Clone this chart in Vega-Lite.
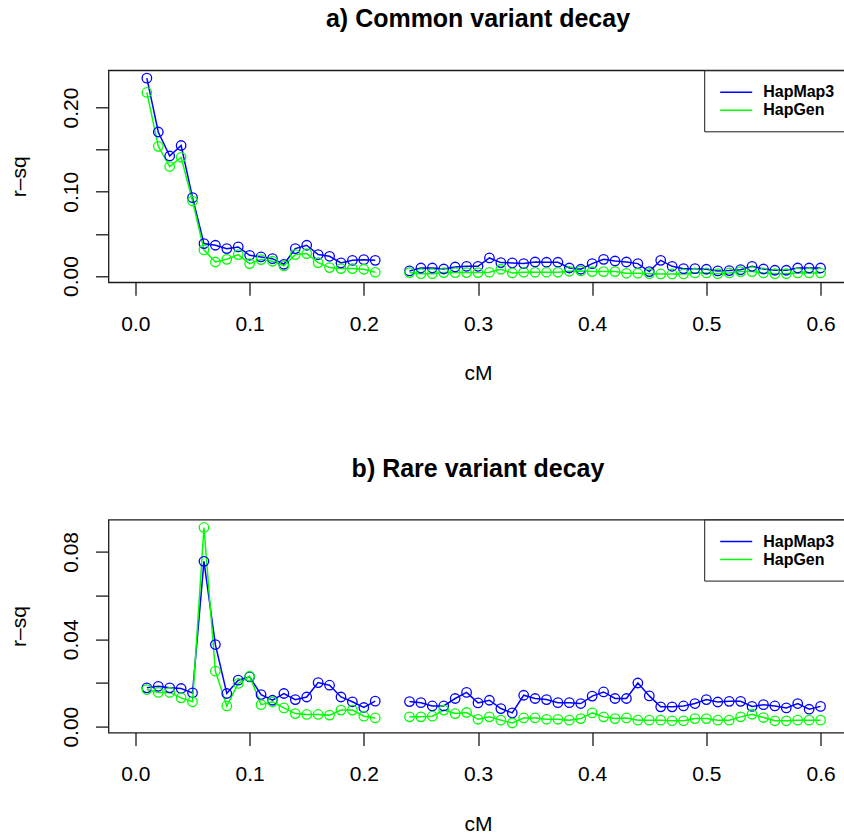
{
"$schema":"https://vega.github.io/schema/vega-lite/v6.json",
"padding":{"left":7.5,"top":6.3,"right":0,"bottom":0},
"datasets":{
"common":[
{"cM":0.01,"rsq":0.235,"series":"HapMap3","seg":1},{"cM":0.02,"rsq":0.171,"series":"HapMap3","seg":1},{"cM":0.03,"rsq":0.1425,"series":"HapMap3","seg":1},{"cM":0.04,"rsq":0.155,"series":"HapMap3","seg":1},{"cM":0.05,"rsq":0.093,"series":"HapMap3","seg":1},{"cM":0.06,"rsq":0.0385,"series":"HapMap3","seg":1},{"cM":0.07,"rsq":0.0365,"series":"HapMap3","seg":1},{"cM":0.08,"rsq":0.0325,"series":"HapMap3","seg":1},{"cM":0.09,"rsq":0.0345,"series":"HapMap3","seg":1},{"cM":0.10,"rsq":0.0246,"series":"HapMap3","seg":1},{"cM":0.11,"rsq":0.0226,"series":"HapMap3","seg":1},{"cM":0.12,"rsq":0.0206,"series":"HapMap3","seg":1},{"cM":0.13,"rsq":0.0139,"series":"HapMap3","seg":1},{"cM":0.14,"rsq":0.0325,"series":"HapMap3","seg":1},{"cM":0.15,"rsq":0.0365,"series":"HapMap3","seg":1},{"cM":0.16,"rsq":0.0254,"series":"HapMap3","seg":1},{"cM":0.17,"rsq":0.0234,"series":"HapMap3","seg":1},{"cM":0.18,"rsq":0.0155,"series":"HapMap3","seg":1},{"cM":0.19,"rsq":0.0186,"series":"HapMap3","seg":1},{"cM":0.20,"rsq":0.0194,"series":"HapMap3","seg":1},{"cM":0.21,"rsq":0.0186,"series":"HapMap3","seg":1},
{"cM":0.24,"rsq":0.006,"series":"HapMap3","seg":2},{"cM":0.25,"rsq":0.0095,"series":"HapMap3","seg":2},{"cM":0.26,"rsq":0.0095,"series":"HapMap3","seg":2},{"cM":0.27,"rsq":0.0083,"series":"HapMap3","seg":2},{"cM":0.28,"rsq":0.0107,"series":"HapMap3","seg":2},{"cM":0.29,"rsq":0.0115,"series":"HapMap3","seg":2},{"cM":0.30,"rsq":0.0115,"series":"HapMap3","seg":2},{"cM":0.31,"rsq":0.0214,"series":"HapMap3","seg":2},{"cM":0.32,"rsq":0.0159,"series":"HapMap3","seg":2},{"cM":0.33,"rsq":0.0155,"series":"HapMap3","seg":2},{"cM":0.34,"rsq":0.0147,"series":"HapMap3","seg":2},{"cM":0.35,"rsq":0.0166,"series":"HapMap3","seg":2},{"cM":0.36,"rsq":0.0163,"series":"HapMap3","seg":2},{"cM":0.37,"rsq":0.0163,"series":"HapMap3","seg":2},{"cM":0.38,"rsq":0.0095,"series":"HapMap3","seg":2},{"cM":0.39,"rsq":0.008,"series":"HapMap3","seg":2},{"cM":0.40,"rsq":0.0147,"series":"HapMap3","seg":2},{"cM":0.41,"rsq":0.0198,"series":"HapMap3","seg":2},{"cM":0.42,"rsq":0.0178,"series":"HapMap3","seg":2},{"cM":0.43,"rsq":0.0166,"series":"HapMap3","seg":2},{"cM":0.44,"rsq":0.0147,"series":"HapMap3","seg":2},{"cM":0.45,"rsq":0.0052,"series":"HapMap3","seg":2},{"cM":0.46,"rsq":0.0186,"series":"HapMap3","seg":2},{"cM":0.47,"rsq":0.0115,"series":"HapMap3","seg":2},{"cM":0.48,"rsq":0.0087,"series":"HapMap3","seg":2},{"cM":0.49,"rsq":0.0087,"series":"HapMap3","seg":2},{"cM":0.50,"rsq":0.008,"series":"HapMap3","seg":2},{"cM":0.51,"rsq":0.006,"series":"HapMap3","seg":2},{"cM":0.52,"rsq":0.0064,"series":"HapMap3","seg":2},{"cM":0.53,"rsq":0.0075,"series":"HapMap3","seg":2},{"cM":0.54,"rsq":0.0115,"series":"HapMap3","seg":2},{"cM":0.55,"rsq":0.0083,"series":"HapMap3","seg":2},{"cM":0.56,"rsq":0.0068,"series":"HapMap3","seg":2},{"cM":0.57,"rsq":0.0068,"series":"HapMap3","seg":2},{"cM":0.58,"rsq":0.0095,"series":"HapMap3","seg":2},{"cM":0.59,"rsq":0.0095,"series":"HapMap3","seg":2},{"cM":0.60,"rsq":0.0095,"series":"HapMap3","seg":2},
{"cM":0.01,"rsq":0.218,"series":"HapGen","seg":1},{"cM":0.02,"rsq":0.154,"series":"HapGen","seg":1},{"cM":0.03,"rsq":0.130,"series":"HapGen","seg":1},{"cM":0.04,"rsq":0.141,"series":"HapGen","seg":1},{"cM":0.05,"rsq":0.089,"series":"HapGen","seg":1},{"cM":0.06,"rsq":0.031,"series":"HapGen","seg":1},{"cM":0.07,"rsq":0.0166,"series":"HapGen","seg":1},{"cM":0.08,"rsq":0.0198,"series":"HapGen","seg":1},{"cM":0.09,"rsq":0.0254,"series":"HapGen","seg":1},{"cM":0.10,"rsq":0.0147,"series":"HapGen","seg":1},{"cM":0.11,"rsq":0.0195,"series":"HapGen","seg":1},{"cM":0.12,"rsq":0.0175,"series":"HapGen","seg":1},{"cM":0.13,"rsq":0.0119,"series":"HapGen","seg":1},{"cM":0.14,"rsq":0.0254,"series":"HapGen","seg":1},{"cM":0.15,"rsq":0.0266,"series":"HapGen","seg":1},{"cM":0.16,"rsq":0.0159,"series":"HapGen","seg":1},{"cM":0.17,"rsq":0.0100,"series":"HapGen","seg":1},{"cM":0.18,"rsq":0.0088,"series":"HapGen","seg":1},{"cM":0.19,"rsq":0.0088,"series":"HapGen","seg":1},{"cM":0.20,"rsq":0.008,"series":"HapGen","seg":1},{"cM":0.21,"rsq":0.0044,"series":"HapGen","seg":1},
{"cM":0.24,"rsq":0.004,"series":"HapGen","seg":2},{"cM":0.25,"rsq":0.0028,"series":"HapGen","seg":2},{"cM":0.26,"rsq":0.0028,"series":"HapGen","seg":2},{"cM":0.27,"rsq":0.004,"series":"HapGen","seg":2},{"cM":0.28,"rsq":0.004,"series":"HapGen","seg":2},{"cM":0.29,"rsq":0.004,"series":"HapGen","seg":2},{"cM":0.30,"rsq":0.004,"series":"HapGen","seg":2},{"cM":0.31,"rsq":0.0044,"series":"HapGen","seg":2},{"cM":0.32,"rsq":0.008,"series":"HapGen","seg":2},{"cM":0.33,"rsq":0.0036,"series":"HapGen","seg":2},{"cM":0.34,"rsq":0.0044,"series":"HapGen","seg":2},{"cM":0.35,"rsq":0.0044,"series":"HapGen","seg":2},{"cM":0.36,"rsq":0.0044,"series":"HapGen","seg":2},{"cM":0.37,"rsq":0.0044,"series":"HapGen","seg":2},{"cM":0.38,"rsq":0.0056,"series":"HapGen","seg":2},{"cM":0.39,"rsq":0.006,"series":"HapGen","seg":2},{"cM":0.40,"rsq":0.0052,"series":"HapGen","seg":2},{"cM":0.41,"rsq":0.0052,"series":"HapGen","seg":2},{"cM":0.42,"rsq":0.0052,"series":"HapGen","seg":2},{"cM":0.43,"rsq":0.0032,"series":"HapGen","seg":2},{"cM":0.44,"rsq":0.0032,"series":"HapGen","seg":2},{"cM":0.45,"rsq":0.0028,"series":"HapGen","seg":2},{"cM":0.46,"rsq":0.0024,"series":"HapGen","seg":2},{"cM":0.47,"rsq":0.0024,"series":"HapGen","seg":2},{"cM":0.48,"rsq":0.0024,"series":"HapGen","seg":2},{"cM":0.49,"rsq":0.0036,"series":"HapGen","seg":2},{"cM":0.50,"rsq":0.0036,"series":"HapGen","seg":2},{"cM":0.51,"rsq":0.0028,"series":"HapGen","seg":2},{"cM":0.52,"rsq":0.0036,"series":"HapGen","seg":2},{"cM":0.53,"rsq":0.0052,"series":"HapGen","seg":2},{"cM":0.54,"rsq":0.0052,"series":"HapGen","seg":2},{"cM":0.55,"rsq":0.0036,"series":"HapGen","seg":2},{"cM":0.56,"rsq":0.0028,"series":"HapGen","seg":2},{"cM":0.57,"rsq":0.0028,"series":"HapGen","seg":2},{"cM":0.58,"rsq":0.0036,"series":"HapGen","seg":2},{"cM":0.59,"rsq":0.0036,"series":"HapGen","seg":2},{"cM":0.60,"rsq":0.0036,"series":"HapGen","seg":2}
],
"rare":[
{"cM":0.01,"rsq":0.0178,"series":"HapMap3","seg":1},{"cM":0.02,"rsq":0.0185,"series":"HapMap3","seg":1},{"cM":0.03,"rsq":0.0178,"series":"HapMap3","seg":1},{"cM":0.04,"rsq":0.0175,"series":"HapMap3","seg":1},{"cM":0.05,"rsq":0.0155,"series":"HapMap3","seg":1},{"cM":0.06,"rsq":0.0757,"series":"HapMap3","seg":1},{"cM":0.07,"rsq":0.0376,"series":"HapMap3","seg":1},{"cM":0.08,"rsq":0.0152,"series":"HapMap3","seg":1},{"cM":0.09,"rsq":0.0213,"series":"HapMap3","seg":1},{"cM":0.10,"rsq":0.0228,"series":"HapMap3","seg":1},{"cM":0.11,"rsq":0.0147,"series":"HapMap3","seg":1},{"cM":0.12,"rsq":0.0121,"series":"HapMap3","seg":1},{"cM":0.13,"rsq":0.0152,"series":"HapMap3","seg":1},{"cM":0.14,"rsq":0.0124,"series":"HapMap3","seg":1},{"cM":0.15,"rsq":0.0136,"series":"HapMap3","seg":1},{"cM":0.16,"rsq":0.0202,"series":"HapMap3","seg":1},{"cM":0.17,"rsq":0.019,"series":"HapMap3","seg":1},{"cM":0.18,"rsq":0.0136,"series":"HapMap3","seg":1},{"cM":0.19,"rsq":0.0114,"series":"HapMap3","seg":1},{"cM":0.20,"rsq":0.0088,"series":"HapMap3","seg":1},{"cM":0.21,"rsq":0.0117,"series":"HapMap3","seg":1},
{"cM":0.24,"rsq":0.0115,"series":"HapMap3","seg":2},{"cM":0.25,"rsq":0.011,"series":"HapMap3","seg":2},{"cM":0.26,"rsq":0.0095,"series":"HapMap3","seg":2},{"cM":0.27,"rsq":0.0095,"series":"HapMap3","seg":2},{"cM":0.28,"rsq":0.0129,"series":"HapMap3","seg":2},{"cM":0.29,"rsq":0.0157,"series":"HapMap3","seg":2},{"cM":0.30,"rsq":0.0109,"series":"HapMap3","seg":2},{"cM":0.31,"rsq":0.0121,"series":"HapMap3","seg":2},{"cM":0.32,"rsq":0.0083,"series":"HapMap3","seg":2},{"cM":0.33,"rsq":0.0063,"series":"HapMap3","seg":2},{"cM":0.34,"rsq":0.0144,"series":"HapMap3","seg":2},{"cM":0.35,"rsq":0.0129,"series":"HapMap3","seg":2},{"cM":0.36,"rsq":0.0124,"series":"HapMap3","seg":2},{"cM":0.37,"rsq":0.011,"series":"HapMap3","seg":2},{"cM":0.38,"rsq":0.011,"series":"HapMap3","seg":2},{"cM":0.39,"rsq":0.0106,"series":"HapMap3","seg":2},{"cM":0.40,"rsq":0.014,"series":"HapMap3","seg":2},{"cM":0.41,"rsq":0.0159,"series":"HapMap3","seg":2},{"cM":0.42,"rsq":0.0129,"series":"HapMap3","seg":2},{"cM":0.43,"rsq":0.0129,"series":"HapMap3","seg":2},{"cM":0.44,"rsq":0.02,"series":"HapMap3","seg":2},{"cM":0.45,"rsq":0.0141,"series":"HapMap3","seg":2},{"cM":0.46,"rsq":0.0091,"series":"HapMap3","seg":2},{"cM":0.47,"rsq":0.0091,"series":"HapMap3","seg":2},{"cM":0.48,"rsq":0.0095,"series":"HapMap3","seg":2},{"cM":0.49,"rsq":0.0106,"series":"HapMap3","seg":2},{"cM":0.50,"rsq":0.0124,"series":"HapMap3","seg":2},{"cM":0.51,"rsq":0.0113,"series":"HapMap3","seg":2},{"cM":0.52,"rsq":0.0116,"series":"HapMap3","seg":2},{"cM":0.53,"rsq":0.0116,"series":"HapMap3","seg":2},{"cM":0.54,"rsq":0.0093,"series":"HapMap3","seg":2},{"cM":0.55,"rsq":0.0101,"series":"HapMap3","seg":2},{"cM":0.56,"rsq":0.0095,"series":"HapMap3","seg":2},{"cM":0.57,"rsq":0.0086,"series":"HapMap3","seg":2},{"cM":0.58,"rsq":0.0106,"series":"HapMap3","seg":2},{"cM":0.59,"rsq":0.008,"series":"HapMap3","seg":2},{"cM":0.60,"rsq":0.0093,"series":"HapMap3","seg":2},
{"cM":0.01,"rsq":0.017,"series":"HapGen","seg":1},{"cM":0.02,"rsq":0.0157,"series":"HapGen","seg":1},{"cM":0.03,"rsq":0.0157,"series":"HapGen","seg":1},{"cM":0.04,"rsq":0.0132,"series":"HapGen","seg":1},{"cM":0.05,"rsq":0.0114,"series":"HapGen","seg":1},{"cM":0.06,"rsq":0.0912,"series":"HapGen","seg":1},{"cM":0.07,"rsq":0.0254,"series":"HapGen","seg":1},{"cM":0.08,"rsq":0.0095,"series":"HapGen","seg":1},{"cM":0.09,"rsq":0.0198,"series":"HapGen","seg":1},{"cM":0.10,"rsq":0.0231,"series":"HapGen","seg":1},{"cM":0.11,"rsq":0.0101,"series":"HapGen","seg":1},{"cM":0.12,"rsq":0.0114,"series":"HapGen","seg":1},{"cM":0.13,"rsq":0.0086,"series":"HapGen","seg":1},{"cM":0.14,"rsq":0.006,"series":"HapGen","seg":1},{"cM":0.15,"rsq":0.0056,"series":"HapGen","seg":1},{"cM":0.16,"rsq":0.0056,"series":"HapGen","seg":1},{"cM":0.17,"rsq":0.0053,"series":"HapGen","seg":1},{"cM":0.18,"rsq":0.0076,"series":"HapGen","seg":1},{"cM":0.19,"rsq":0.0076,"series":"HapGen","seg":1},{"cM":0.20,"rsq":0.0048,"series":"HapGen","seg":1},{"cM":0.21,"rsq":0.004,"series":"HapGen","seg":1},
{"cM":0.24,"rsq":0.0045,"series":"HapGen","seg":2},{"cM":0.25,"rsq":0.0045,"series":"HapGen","seg":2},{"cM":0.26,"rsq":0.0048,"series":"HapGen","seg":2},{"cM":0.27,"rsq":0.0076,"series":"HapGen","seg":2},{"cM":0.28,"rsq":0.006,"series":"HapGen","seg":2},{"cM":0.29,"rsq":0.0065,"series":"HapGen","seg":2},{"cM":0.30,"rsq":0.0034,"series":"HapGen","seg":2},{"cM":0.31,"rsq":0.0045,"series":"HapGen","seg":2},{"cM":0.32,"rsq":0.003,"series":"HapGen","seg":2},{"cM":0.33,"rsq":0.0017,"series":"HapGen","seg":2},{"cM":0.34,"rsq":0.004,"series":"HapGen","seg":2},{"cM":0.35,"rsq":0.004,"series":"HapGen","seg":2},{"cM":0.36,"rsq":0.0034,"series":"HapGen","seg":2},{"cM":0.37,"rsq":0.0034,"series":"HapGen","seg":2},{"cM":0.38,"rsq":0.003,"series":"HapGen","seg":2},{"cM":0.39,"rsq":0.0037,"series":"HapGen","seg":2},{"cM":0.40,"rsq":0.0063,"series":"HapGen","seg":2},{"cM":0.41,"rsq":0.0045,"series":"HapGen","seg":2},{"cM":0.42,"rsq":0.0037,"series":"HapGen","seg":2},{"cM":0.43,"rsq":0.004,"series":"HapGen","seg":2},{"cM":0.44,"rsq":0.003,"series":"HapGen","seg":2},{"cM":0.45,"rsq":0.003,"series":"HapGen","seg":2},{"cM":0.46,"rsq":0.003,"series":"HapGen","seg":2},{"cM":0.47,"rsq":0.0027,"series":"HapGen","seg":2},{"cM":0.48,"rsq":0.0027,"series":"HapGen","seg":2},{"cM":0.49,"rsq":0.0037,"series":"HapGen","seg":2},{"cM":0.50,"rsq":0.0037,"series":"HapGen","seg":2},{"cM":0.51,"rsq":0.003,"series":"HapGen","seg":2},{"cM":0.52,"rsq":0.003,"series":"HapGen","seg":2},{"cM":0.53,"rsq":0.0045,"series":"HapGen","seg":2},{"cM":0.54,"rsq":0.0057,"series":"HapGen","seg":2},{"cM":0.55,"rsq":0.0042,"series":"HapGen","seg":2},{"cM":0.56,"rsq":0.0027,"series":"HapGen","seg":2},{"cM":0.57,"rsq":0.0027,"series":"HapGen","seg":2},{"cM":0.58,"rsq":0.003,"series":"HapGen","seg":2},{"cM":0.59,"rsq":0.003,"series":"HapGen","seg":2},{"cM":0.60,"rsq":0.003,"series":"HapGen","seg":2}
]
},
"vconcat":[
{
"width":739,"height":212,
"title":{"text":"a) Common variant decay"},
"data":{"name":"common"},
"encoding":{
"x":{"field":"cM","type":"quantitative","scale":{"domain":[-0.0236,0.6236],"nice":false,"zero":false},
"axis":{"values":[0,0.1,0.2,0.3,0.4,0.5,0.6],"format":".1f","labelBaseline":"alphabetic","labelPadding":35,"title":"cM","titleBaseline":"alphabetic","titleY":97.7}},
"y":{"field":"rsq","type":"quantitative","scale":{"domain":[-0.0075,0.2443],"nice":false,"zero":false},
"axis":{"values":[0,0.05,0.1,0.15,0.2],"labelExpr":"round(datum.value*100)%10==5 ? '' : format(datum.value,'.2f')","labelAngle":270,"labelAlign":"center","labelBaseline":"alphabetic","labelPadding":18.3,"title":"r–sq","titleBaseline":"alphabetic","titleX":-83}},
"color":{"field":"series","type":"nominal","scale":{"domain":["HapMap3","HapGen"],"range":["#0000ff","#00ff00"]},
"legend":{"title":null,"orient":"none","legendX":595.7,"legendY":0,"strokeColor":"#1a1a1a","fillColor":"white","padding":13,"rowPadding":1,"symbolType":"M-2,0H2","symbolSize":256,"symbolStrokeWidth":1.5,"symbolOffset":10,"labelOffset":18,"labelFontSize":16,"labelFontWeight":"bold","labelColor":"black","labelFont":"Liberation Sans"}},
"detail":{"field":"seg","type":"nominal"}
},
"layer":[
{"mark":{"type":"line","strokeWidth":1.5}},
{"mark":{"type":"point","filled":false,"size":90,"strokeWidth":1.3,"opacity":1}}
]
},
{
"width":739,"height":213,
"title":{"text":"b) Rare variant decay"},
"data":{"name":"rare"},
"encoding":{
"x":{"field":"cM","type":"quantitative","scale":{"domain":[-0.0236,0.6236],"nice":false,"zero":false},
"axis":{"values":[0,0.1,0.2,0.3,0.4,0.5,0.6],"format":".1f","labelBaseline":"alphabetic","labelPadding":35,"title":"cM","titleBaseline":"alphabetic","titleY":97.7}},
"y":{"field":"rsq","type":"quantitative","scale":{"domain":[-0.0027,0.0948],"nice":false,"zero":false},
"axis":{"values":[0,0.02,0.04,0.06,0.08],"labelExpr":"round(datum.value*100)%4==2 ? '' : format(datum.value,'.2f')","labelAngle":270,"labelAlign":"center","labelBaseline":"alphabetic","labelPadding":18.3,"title":"r–sq","titleBaseline":"alphabetic","titleX":-83}},
"color":{"field":"series","type":"nominal","scale":{"domain":["HapMap3","HapGen"],"range":["#0000ff","#00ff00"]},
"legend":{"title":null,"orient":"none","legendX":595.7,"legendY":0,"strokeColor":"#1a1a1a","fillColor":"white","padding":13,"rowPadding":1,"symbolType":"M-2,0H2","symbolSize":256,"symbolStrokeWidth":1.5,"symbolOffset":10,"labelOffset":18,"labelFontSize":16,"labelFontWeight":"bold","labelColor":"black","labelFont":"Liberation Sans"}},
"detail":{"field":"seg","type":"nominal"}
},
"layer":[
{"mark":{"type":"line","strokeWidth":1.5}},
{"mark":{"type":"point","filled":false,"size":90,"strokeWidth":1.3,"opacity":1}}
]
}
],
"spacing":237.3,
"bounds":"flush",
"resolve":{"scale":{"color":"independent"}},
"config":{
"font":"Liberation Sans",
"background":"white",
"view":{"stroke":"#1a1a1a","strokeWidth":1.3},
"axis":{"grid":false,"domain":false,"tickColor":"#1a1a1a","tickWidth":1.3,"tickSize":13,"labelColor":"black","labelFontSize":21,"labelFont":"Liberation Sans","titleFont":"Liberation Sans","titleFontSize":21,"titleFontWeight":"normal","titleColor":"black","labelOverlap":false,"labelFlush":false},
"title":{"fontSize":25,"fontWeight":"bold","color":"black","anchor":"middle","baseline":"alphabetic","offset":37.5,"font":"Liberation Sans"}
}
}
